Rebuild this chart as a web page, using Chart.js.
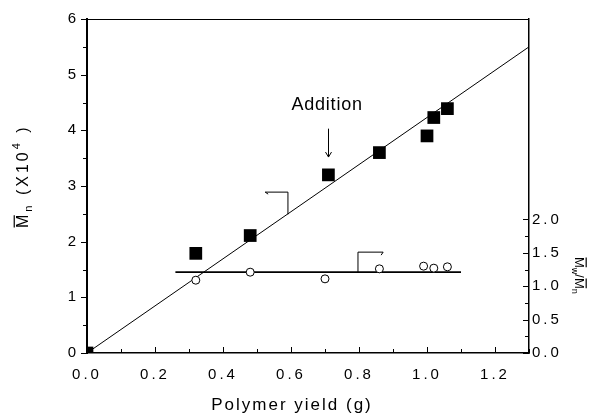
<!DOCTYPE html>
<html><head><meta charset="utf-8">
<script src="https://cdn.jsdelivr.net/npm/chart.js@4.4.1/dist/chart.umd.min.js"></script>
<style>html,body{margin:0;padding:0;background:#fff}</style>
</head><body>
<canvas id="c" width="596" height="416" style="display:block;width:596px;height:416px"></canvas>
<script>
// ---- data ----
const yieldMn   = [0, 0.32, 0.48, 0.71, 0.86, 1.00, 1.02, 1.06];
const mnValues  = [0, 1.79, 2.11, 3.20, 3.60, 3.90, 4.23, 4.39];
const yieldPdi  = [0.32, 0.48, 0.70, 0.86, 0.99, 1.02, 1.06];
const pdiValues = [1.09, 1.21, 1.11, 1.26, 1.30, 1.27, 1.29];
const fitX = [0, 1.3];
const fitY = [0, 5.5];
const pdiLineX = [0.26, 1.10];
const pdiLineY = [1.21, 1.21];
const xTicks  = [0, 0.2, 0.4, 0.6, 0.8, 1.0, 1.2];
const yTicks  = [0, 1, 2, 3, 4, 5, 6];
const y2Ticks = [0, 0.5, 1.0, 1.5, 2.0];
const xTitle = 'Polymer yield (g)';
const additionText = 'Addition';

// annotation anchors (data units)
const ann = {
  label: {x: 0.705, y: 4.36},
  arrow: {x: 0.71, y1: 4.03, y2: 3.52},
  bracketMn: [[0.524, 2.89], [0.591, 2.89], [0.591, 2.49]],
  bracketPdi: [[0.871, 1.51], [0.797, 1.51], [0.797, 1.21]]
};

const FONT = "'Liberation Sans', Arial, Helvetica, sans-serif";
const pts = (xs, ys) => xs.map((v, i) => ({x: v, y: ys[i]}));

function seg(ctx, a, b) { ctx.beginPath(); ctx.moveTo(a[0], a[1]); ctx.lineTo(b[0], b[1]); ctx.stroke(); }

function drawRich(ctx, parts, spacing) {
  let cx = 0;
  ctx.letterSpacing = spacing + 'px';
  for (const p of parts) {
    ctx.font = p.size + 'px ' + FONT;
    ctx.fillText(p.t, cx, p.dy || 0);
    const w = ctx.measureText(p.t).width;
    if (p.bar) {
      ctx.lineWidth = 1.2;
      seg(ctx, [cx + 0.5, -p.size * 0.86], [cx + w - spacing - 0.5, -p.size * 0.86]);
    }
    cx += w;
  }
}

const spacingPlugin = {
  id: 'spacing',
  beforeDraw(chart) { chart.ctx.letterSpacing = '3px'; }
};

const decor = {
  id: 'decor',
  afterDraw(chart) {
    const ctx = chart.ctx, ca = chart.chartArea;
    const sx = chart.scales.x, sy = chart.scales.y, sy2 = chart.scales.y2;
    ctx.save();
    ctx.strokeStyle = '#000'; ctx.fillStyle = '#000'; ctx.lineWidth = 1;
    // top border
    seg(ctx, [ca.left, ca.top + 0.5], [ca.right, ca.top + 0.5]);
    // left ticks (outward)
    for (let i = 0; i <= 12; i++) {
      const py = Math.round(sy.getPixelForValue(i * 0.5)) + 0.5;
      seg(ctx, [ca.left - (i % 2 ? 4 : 6), py], [ca.left, py]);
    }
    // bottom ticks (inward)
    for (let i = 0; i <= 13; i++) {
      const px = Math.round(sx.getPixelForValue(i * 0.1)) + 0.5;
      seg(ctx, [px, ca.bottom], [px, ca.bottom - (i % 2 ? 4 : 6)]);
    }
    // right ticks (inward)
    for (let i = 0; i <= 8; i++) {
      const py = Math.round(sy2.getPixelForValue(i * 0.25)) + 0.5;
      seg(ctx, [ca.right - (i % 2 ? 4 : 6), py], [ca.right, py]);
    }
    // Addition label + arrow
    ctx.letterSpacing = '0.8px';
    ctx.font = '18px ' + FONT; ctx.textAlign = 'left'; ctx.textBaseline = 'alphabetic';
    const aw = ctx.measureText(additionText).width - 0.8;
    ctx.fillText(additionText, sx.getPixelForValue(ann.label.x) - aw / 2, sy.getPixelForValue(ann.label.y));
    const ax = Math.round(sx.getPixelForValue(ann.arrow.x)) + 0.5;
    const ay1 = sy.getPixelForValue(ann.arrow.y1), ay2 = sy.getPixelForValue(ann.arrow.y2);
    seg(ctx, [ax, ay1], [ax, ay2]);
    seg(ctx, [ax - 3, ay2 - 5], [ax, ay2]); seg(ctx, [ax + 3, ay2 - 5], [ax, ay2]);
    // brackets
    const b1 = ann.bracketMn.map(p => [sx.getPixelForValue(p[0]), sy.getPixelForValue(p[1])]);
    ctx.beginPath(); ctx.moveTo(b1[0][0], b1[0][1]); ctx.lineTo(b1[1][0], b1[1][1]); ctx.lineTo(b1[2][0], b1[2][1]); ctx.stroke();
    seg(ctx, [b1[0][0], b1[0][1]], [b1[0][0] + 3, b1[0][1] + 2]);
    const b2 = ann.bracketPdi.map(p => [sx.getPixelForValue(p[0]), sy2.getPixelForValue(p[1])]);
    ctx.beginPath(); ctx.moveTo(b2[0][0], b2[0][1]); ctx.lineTo(b2[1][0], b2[1][1]); ctx.lineTo(b2[2][0], b2[2][1]); ctx.stroke();
    seg(ctx, [b2[0][0], b2[0][1]], [b2[0][0] - 2, b2[0][1] + 3]);
    // x title
    ctx.letterSpacing = '2px';
    ctx.font = '17px ' + FONT; ctx.textAlign = 'left';
    const tw = ctx.measureText(xTitle).width - 2;
    ctx.fillText(xTitle, 291 - tw / 2, 410);
    // left title
    ctx.save();
    ctx.translate(28, 228); ctx.rotate(-Math.PI / 2);
    drawRich(ctx, [{t: 'M', size: 16, bar: true}, {t: 'n', size: 11, dy: 4}, {t: ' (X10', size: 16}, {t: '4', size: 11, dy: -8}, {t: ' )', size: 16}], 3);
    ctx.restore();
    // right title
    ctx.save();
    ctx.translate(575, 257); ctx.rotate(Math.PI / 2);
    drawRich(ctx, [{t: 'M', size: 13, bar: true}, {t: 'w', size: 9, dy: 3}, {t: '/', size: 13}, {t: 'M', size: 13, bar: true}, {t: 'n', size: 9, dy: 3}], 0);
    ctx.restore();
    ctx.restore();
  }
};

const tickFont = {family: FONT, size: 15};
new Chart(document.getElementById('c'), {
  type: 'scatter',
  data: {
    datasets: [
      {data: pts(yieldMn, mnValues), yAxisID: 'y', pointStyle: 'rect', pointRadius: 9,
       backgroundColor: '#000', borderWidth: 0, clip: 0, order: 0},
      {data: pts(yieldPdi, pdiValues), yAxisID: 'y2', pointStyle: 'circle', pointRadius: 4,
       backgroundColor: '#fff', borderColor: '#000', borderWidth: 1, order: 1},
      {data: pts(fitX, fitY), yAxisID: 'y', showLine: true, pointRadius: 0,
       borderColor: '#000', borderWidth: 1, order: 2},
      {data: pts(pdiLineX, pdiLineY), yAxisID: 'y2', showLine: true, pointRadius: 0,
       borderColor: '#000', borderWidth: 1.6, order: 3}
    ]
  },
  options: {
    responsive: false, animation: false, events: [], devicePixelRatio: 1,
    layout: {padding: {top: 19, left: 0, right: 0, bottom: 0}},
    plugins: {legend: {display: false}, tooltip: {enabled: false}},
    scales: {
      x: {type: 'linear', min: 0, max: 1.3,
          afterBuildTicks: s => { s.ticks = xTicks.map(v => ({value: v})); },
          afterFit: s => { s.height = 63; },
          ticks: {callback: v => v.toFixed(1), font: tickFont, color: '#000', padding: 13, maxRotation: 0, autoSkip: false},
          grid: {display: false, drawTicks: false},
          border: {display: true, color: '#000', width: 1.5}},
      y: {position: 'left', min: 0, max: 6,
          afterBuildTicks: s => { s.ticks = yTicks.map(v => ({value: v})); },
          afterFit: s => { s.width = 87; },
          ticks: {callback: v => String(v), font: tickFont, color: '#000', padding: 8},
          grid: {display: false, drawTicks: false},
          border: {display: true, color: '#000', width: 2}},
      y2: {position: 'right', min: 0, max: 5,
          afterBuildTicks: s => { s.ticks = y2Ticks.map(v => ({value: v})); },
          afterFit: s => { s.width = 67; },
          ticks: {callback: v => v.toFixed(1), font: tickFont, color: '#000', padding: 3},
          grid: {display: false, drawTicks: false},
          border: {display: true, color: '#000', width: 1.5}}
    }
  },
  plugins: [spacingPlugin, decor]
});
</script>
</body></html>
